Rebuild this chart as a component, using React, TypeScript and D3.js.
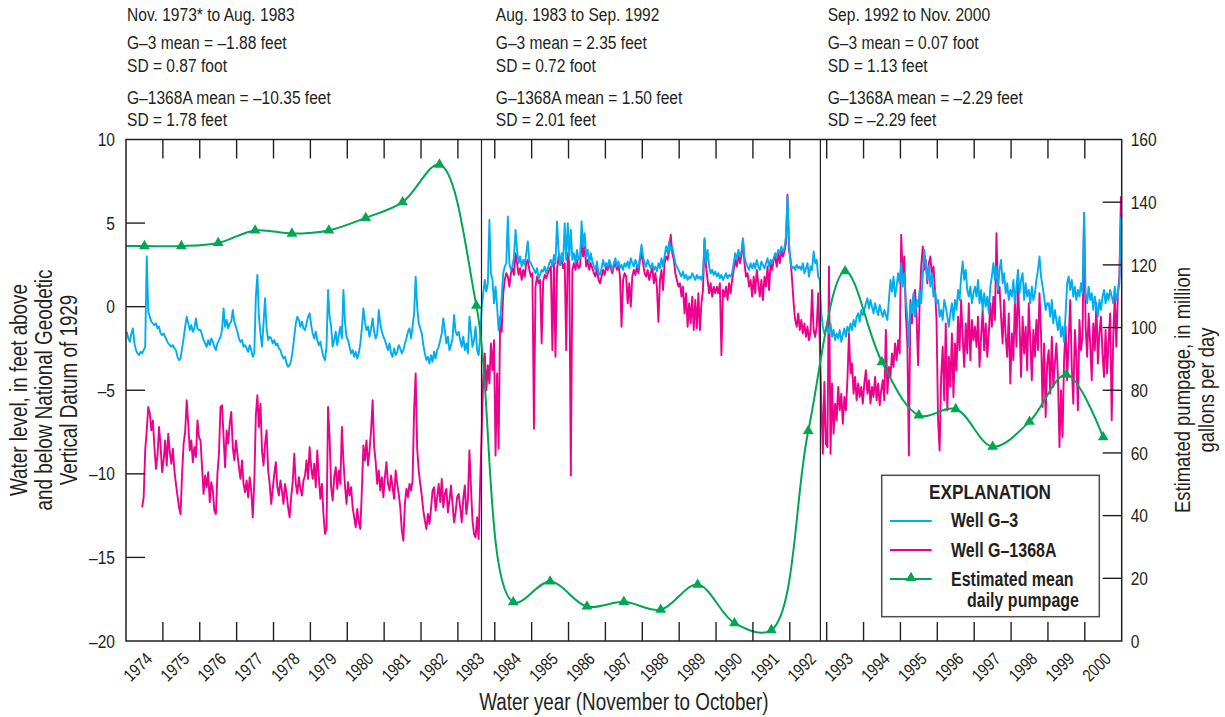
import React from 'react';
import * as d3 from 'd3';

const FONT = "'Liberation Sans', Arial, sans-serif";
const SQUEEZE = 0.82; // condensed look, as in the printed figure
const INK = '#231f20';
const BLUE = '#00aeef';
const PINK = '#ec008c';
const GREEN = '#00a651';

const width = 1225;
const height = 717;
const plot = { left: 126, right: 1121.7, top: 139.5, bottom: 641 };

// water years, November to October
const waterYears = [
  1974, 1975, 1976, 1977, 1978, 1979, 1980, 1981, 1982, 1983, 1984, 1985, 1986, 1987,
  1988, 1989, 1990, 1991, 1992, 1993, 1994, 1995, 1996, 1997, 1998, 1999, 2000,
];

// well G-3, feet NGVD 1929, half-month readings per water year
const g3Levels = [
  [-1.5, -1.9, -2.1, -1.6, -1.3, -2.2, -2.6, -2.8, -2.9, -2.7, -2.8, -2.6, -2.4, 3.0, -0.3, -0.6, -0.9, -1.0, -1.1, -1.0, -1.3, -1.2, -1.6, -1.7],
  [-1.6, -1.8, -2.0, -2.2, -2.3, -2.4, -2.3, -2.5, -2.6, -3.0, -3.2, -3.1, -2.5, -1.9, -1.2, -0.6, -1.0, -1.4, -1.1, -1.5, -1.3, -0.7, -1.3, -1.4],
  [-1.4, -1.7, -2.0, -2.2, -2.4, -2.0, -2.3, -1.9, -2.1, -2.4, -2.6, -2.2, -2.0, -1.8, -1.4, -0.1, -1.2, -0.8, -1.3, -1.0, -0.9, -0.2, -0.9, -1.2],
  [-1.5, -1.9, -2.1, -2.0, -2.4, -2.3, -2.5, -2.7, -2.3, -2.6, -3.0, -2.8, 0.6, 1.9, -0.6, -1.6, -2.4, -1.0, 0.5, -1.3, -2.0, -1.8, -1.9, -2.2],
  [-2.0, -2.3, -2.2, -2.5, -2.6, -2.9, -3.1, -3.0, -3.4, -3.6, -3.5, -3.2, -2.6, -1.8, -1.0, -0.6, -0.8, -1.2, -0.9, -1.3, -1.4, -1.0, -0.6, -0.4],
  [-1.1, -1.6, -1.9, -1.5, -2.0, -2.3, -2.1, -2.6, -3.0, -3.2, -2.4, 1.0, -0.6, -1.2, -2.4, -2.0, -1.5, -2.3, -1.7, -1.2, -1.9, 1.0, -0.9, -1.8],
  [-2.0, -2.4, -2.8, -2.6, -3.0, -2.7, -3.1, -2.8, -2.2, -1.3, -0.1, -0.9, -1.4, -1.2, -1.8, -1.3, -0.7, -1.5, -1.9, -1.6, -0.2, -1.0, -1.5, -1.8],
  [-2.0, -2.3, -2.6, -2.2, -2.8, -3.0, -2.5, -2.9, -2.7, -2.3, -2.5, -2.8, -2.6, -2.2, -1.9, -1.5, -1.3, -1.9, -1.2, -0.4, 1.8, 0.0, -1.0, -1.3],
  [-1.6, -2.3, -2.8, -3.2, -3.0, -3.4, -2.9, -3.3, -2.7, -3.1, -2.6, -2.4, -2.0, -1.6, -0.7, -1.4, -2.2, -1.8, -2.6, -2.3, -1.9, -0.5, -1.5, -1.7],
  [-1.5, -2.0, -2.4, -1.8, -2.6, -2.2, -2.8, -0.6, -1.5, -2.4, -2.0, -1.2, -2.6, -2.9, -1.8, 0.0, 0.8, 1.6, 0.9, 1.4, 5.2, 2.0, 1.6, 0.2],
  [1.2, 0.0, -1.4, -1.0, 0.6, 2.0, 2.4, 2.6, 5.4, 2.6, 2.2, 2.4, 3.0, 4.6, 3.4, 2.6, 3.0, 2.4, 2.8, 2.5, 3.2, 3.9, 2.7, 2.6],
  [2.4, 2.2, 2.0, 2.3, 1.7, 1.9, 2.2, 2.1, 2.4, 2.0, 2.3, 2.6, 2.8, 2.4, 3.1, 2.6, 5.1, 3.4, 2.5, 3.2, 2.7, 5.0, 2.8, 5.0],
  [3.0, 4.6, 2.8, 3.2, 2.6, 3.4, 2.8, 2.9, 5.1, 3.6, 4.4, 3.0, 3.4, 2.6, 3.2, 2.7, 2.4, 2.2, 2.7, 2.0, 1.9, 2.3, 2.8, 2.4],
  [2.6, 2.4, 2.8, 2.5, 2.2, 2.6, 2.9, 2.4, 2.7, 2.3, 2.5, 2.2, 2.6, 2.4, 2.7, 2.3, 2.9, 2.6, 2.4, 2.8, 2.5, 2.3, 3.0, 3.7],
  [3.0, 2.6, 2.4, 2.8, 2.5, 2.3, 2.6, 2.2, 2.4, 2.1, 2.6, 2.3, 2.9, 2.4, 3.0, 3.6, 3.2, 3.9, 3.4, 3.6, 3.1, 2.6, 2.4, 2.2],
  [2.0, 1.8, 2.1, 1.7, 1.9, 1.6, 1.8, 1.7, 2.0, 1.8, 1.6, 1.9, 1.7, 1.8, 1.6, 2.0, 4.1, 2.6, 3.4, 2.4, 2.0, 2.2, 1.9, 2.1],
  [1.8, 2.0, 1.7, 1.9, 1.6, 1.8, 2.0, 1.7, 1.9, 1.8, 2.0, 2.6, 3.2, 2.8, 3.4, 3.0, 3.3, 4.1, 3.0, 2.6, 2.4, 2.2, 2.6, 2.3],
  [2.6, 2.3, 2.8, 2.4, 2.2, 2.7, 2.5, 2.3, 2.6, 2.9, 2.4, 2.8, 2.6, 2.9, 3.2, 3.0, 3.4, 3.2, 3.6, 3.3, 3.5, 4.2, 6.6, 3.8],
  [2.6, 2.3, 2.4, 2.2, 2.5, 2.3, 2.4, 2.2, 2.6, 2.0, 2.3, 2.6, 1.8, 2.4, 2.2, 3.3, 2.6, 2.8, 1.8, 1.6, -0.4, -1.2, -1.6, -1.4],
  [-1.2, -1.6, -1.0, -1.8, -1.4, -2.0, -1.6, -1.9, -1.4, -2.1, -1.7, -1.3, -1.8, -1.2, -1.5, -1.0, -1.4, -0.8, -1.2, -0.6, -0.4, -0.9, -0.2, -0.5],
  [-0.2, 0.2, 0.5, -0.1, 0.4, 0.0, -0.4, 0.2, -0.2, -0.5, 0.1, -0.3, -0.6, -0.2, -0.5, -0.8, 0.4, 1.6, 0.9, 1.8, 0.6, 1.2, 2.0, 1.4],
  [2.6, 1.2, 2.0, 0.4, -0.6, -2.4, 0.2, -0.4, 0.8, -0.6, 0.4, 0.0, 1.0, 0.2, 1.8, 3.4, 2.6, 1.6, 2.4, 1.2, 2.0, 0.6, 1.0, 0.2],
  [0.4, -0.6, -0.2, -0.8, 0.4, 0.0, -0.6, -1.2, -0.4, 0.2, -0.8, 0.4, -0.2, 1.0, 0.4, 1.8, 2.7, 1.6, 2.2, 1.0, 0.6, 1.2, 0.2, 0.8],
  [1.2, 0.6, 1.6, 0.2, 1.0, -0.2, 0.8, 0.0, 0.6, -0.4, 1.2, 1.8, 2.6, 1.6, 2.4, 1.0, 2.2, 2.8, 1.4, 2.0, 0.8, 1.4, 0.4, 1.0],
  [0.6, 1.6, 0.2, 1.2, 2.2, 0.8, 1.6, 2.0, 0.4, 1.4, 0.6, 1.0, 0.2, 1.2, 0.4, 0.8, 1.6, 2.2, 3.0, 1.8, 1.2, 0.6, -0.2, 0.2],
  [0.2, -0.6, 0.4, -1.0, -0.2, -0.8, -1.4, -0.6, -1.8, -1.2, -2.1, -0.4, 1.4, 1.8, 1.0, 1.6, 0.6, 1.2, 0.4, 1.0, 0.6, 1.4, 0.8, 5.6],
  [0.8, 0.2, 1.2, 0.4, 0.8, -0.2, 0.6, 0.0, -0.6, 0.4, -0.2, 0.6, 1.0, 0.2, 0.8, 0.4, 1.0, 0.6, 0.2, 1.2, 0.4, 0.8, 1.4, 5.4],
];

// well G-1368A, same layout; record starts early 1974
const g1368aLevels = [
  [null, null, null, null, null, null, null, null, null, null, -12.0, -11.4, -8.6, -7.4, -6.0, -6.4, -7.4, -6.8, -8.4, -9.7, -8.9, -7.2, -8.3, -9.9],
  [-9.2, -8.0, -9.5, -7.6, -8.7, -9.4, -8.5, -9.8, -10.6, -11.3, -12.0, -12.4, -10.0, -8.2, -7.5, -5.6, -7.0, -8.6, -8.0, -9.3, -8.4, -9.0, -6.8, -7.8],
  [-8.0, -9.6, -11.2, -10.1, -10.8, -9.9, -11.7, -10.5, -11.0, -12.2, -12.4, -10.0, -8.8, -6.0, -5.9, -7.8, -9.6, -7.4, -8.2, -7.0, -6.3, -8.4, -9.2, -8.0],
  [-8.8, -9.6, -10.3, -9.2, -10.6, -11.1, -10.4, -11.4, -10.2, -11.0, -12.6, -10.5, -6.5, -5.3, -7.2, -5.8, -8.6, -9.5, -8.2, -7.4, -9.8, -10.6, -11.8, -10.9],
  [-10.0, -9.3, -10.8, -11.3, -10.4, -11.0, -11.8, -10.6, -11.2, -12.0, -12.6, -11.4, -10.5, -8.8, -10.6, -11.2, -10.2, -10.9, -11.3, -10.4, -10.1, -9.2, -10.3, -8.4],
  [-9.6, -10.3, -9.4, -10.8, -8.6, -10.2, -11.5, -10.6, -12.4, -13.6, -13.3, -6.0, -7.8, -10.8, -11.6, -10.2, -9.6, -10.9, -9.8, -10.6, -7.2, -9.2, -10.7, -11.8],
  [-10.5, -11.3, -10.8, -12.0, -12.6, -13.2, -12.1, -12.9, -13.3, -11.0, -8.3, -9.2, -8.0, -9.5, -8.6, -7.4, -5.6, -8.4, -9.3, -10.6, -9.8, -11.0, -10.2, -11.4],
  [-10.2, -9.3, -10.6, -11.0, -10.1, -10.8, -11.5, -9.8, -10.6, -11.2, -12.0, -13.4, -14.0, -11.8, -10.9, -11.4, -10.6, -11.0, -10.4, -6.2, -4.0, -8.5, -9.8, -10.6],
  [-11.3, -12.2, -12.8, -13.3, -12.4, -13.0, -12.1, -11.0, -10.8, -12.2, -11.4, -10.6, -11.7, -10.3, -12.0, -11.2, -10.9, -12.3, -11.6, -10.7, -11.8, -12.9, -12.3, -11.4],
  [-11.2, -12.0, -12.9, -11.5, -10.7, -12.4, -11.6, -8.6, -10.8, -12.8, -13.6, -13.8, -12.6, -13.9, -10.5, -7.5, -4.2, -2.8, -5.0, -3.5, -4.6, -2.2, -3.8, -2.0],
  [-8.9, -4.0, -8.5, -0.6, -1.5, 0.8, 1.6, 2.0, 1.8, 1.2, 2.0, 2.3, 1.9, 3.2, 2.6, 1.9, 2.3, 1.6, 2.2, 1.8, 2.6, 2.8, 2.2, 1.8],
  [2.0, -7.3, 1.2, 1.8, 1.4, 1.6, -2.2, 1.5, 1.9, 1.7, 2.0, 2.2, 2.4, -2.6, 2.6, -3.0, 2.2, 3.0, 2.5, 2.8, 2.3, 2.6, -2.6, 3.2],
  [2.6, -10.1, 2.2, 2.6, 2.2, 2.8, 2.3, 2.4, 4.0, 3.0, 3.6, 2.4, 2.8, 2.2, 2.6, 2.3, 2.0, 1.8, 2.3, 1.6, 1.4, 1.8, 2.2, 1.9],
  [2.4, 2.2, 2.6, 2.3, 2.0, 2.4, 2.6, 2.2, 2.5, 1.8, -1.2, 1.6, 2.0, 1.8, 0.2, 1.4, 0.0, 1.8, 2.2, 1.9, 2.4, 2.0, 2.8, 3.2],
  [2.6, 2.0, 1.8, 2.2, 1.6, 2.0, 2.4, 1.4, 2.0, 1.2, -0.9, 1.6, 2.2, 1.0, 2.6, 3.0, 2.8, 3.4, 4.3, 3.2, 2.8, 2.0, 1.6, 1.2],
  [1.4, 0.6, 1.2, -0.4, 0.8, -1.2, 0.2, -1.0, 0.6, -1.4, 0.4, -1.3, 0.8, -1.4, 0.2, 1.0, 4.0, 2.4, 1.6, 0.8, 1.4, 0.6, 1.2, 0.8],
  [1.2, 0.8, 1.4, -2.9, 1.0, 0.6, 1.2, 0.4, 1.4, 0.8, 1.6, 2.2, 2.8, 2.4, 3.2, 2.6, 3.0, 4.0, 2.6, 1.8, 2.0, 1.2, 1.6, 0.6],
  [1.8, 0.8, 2.2, 1.4, 0.6, 1.6, 0.4, 1.8, 1.2, 2.4, 1.0, 2.6, 2.2, 2.8, 3.0, 2.4, 3.2, 2.6, 3.4, 3.0, 3.3, 3.8, 6.7, 3.4],
  [2.8, 1.6, 0.2, -0.8, -1.2, -0.4, -1.4, -0.8, -1.6, -1.0, -1.8, -1.2, -2.0, -1.5, 1.0, -1.4, -1.8, -1.2, 0.8, -2.2, -5.6, -8.8, -4.5, -8.2],
  [-8.4, 2.4, -8.8, -4.6, -7.6, -5.8, -6.8, -4.8, -6.2, -5.2, -7.0, -5.4, -6.2, -4.4, -1.6, -4.0, -3.4, -5.2, -4.2, -5.6, -4.6, -5.4, -4.8, -5.8],
  [-4.6, -3.8, -5.2, -4.4, -5.8, -4.8, -5.4, -4.2, -5.6, -4.6, -5.9, -5.0, -4.4, -5.6, -1.4, -5.2, -3.6, -4.2, -2.8, -3.6, -2.2, -3.2, -2.0, -2.8],
  [4.3, 1.8, 3.0, -0.4, -2.2, -8.9, 0.4, -1.0, 0.6, 1.0, -0.6, -3.5, 0.2, 2.4, 3.6, 2.2, 2.8, 1.4, 2.6, 3.0, 1.8, 2.4, 1.0, -0.8],
  [-6.8, -8.6, -4.2, -2.4, -5.6, -1.0, -6.2, -3.0, -4.8, -1.6, -5.4, -2.2, -3.8, -0.6, -2.6, 0.4, -1.8, -3.6, -1.0, -2.8, 0.2, -3.2, -0.8, -2.0],
  [-1.2, -2.4, -0.6, -3.6, -1.8, -0.2, -2.6, -1.0, -3.0, -1.6, 0.2, -1.2, 0.6, -0.8, 4.4, 0.8, 1.2, -0.6, -2.2, 0.4, -1.8, -3.0, -0.4, -4.6],
  [-1.6, -3.2, 0.4, -2.4, 1.4, -1.0, -4.2, -0.6, -2.8, -1.2, -3.8, 0.2, -2.0, -4.4, -1.4, -3.0, -0.8, -2.6, 0.8, -1.6, -6.0, -2.2, -6.6, -3.4],
  [-2.6, -5.2, -1.8, -4.8, -3.4, -2.2, -4.2, -8.4, -5.0, -7.8, -3.2, -1.2, -4.4, -2.0, 0.4, -3.6, -5.8, -1.4, -3.0, -6.2, -0.8, -2.6, -1.8, 5.6],
  [-1.2, -3.0, -0.4, -2.2, -4.4, -1.0, -2.6, 0.2, -3.4, -1.6, -0.6, -2.8, -4.2, -1.4, -4.0, -2.0, -0.4, -6.8, -1.8, 0.6, -2.4, 0.8, 1.8, 6.6],
];

// estimated mean daily pumpage, million gallons per day, one per water year
const pumpage = [
  126, 126, 127, 131, 130, 131, 135, 140, 152, 107, 12.4, 19, 11, 12.5,
  10, 18, 5.7, 3.5, 67, 118, 89, 72, 74, 62, 70, 85, 65,
];

// period boundaries (Aug. 1983, Sep. 1992) in water-year units
const periodBreaks = [1983.64, 1992.83];
const periodLabelYears = [1974, 1984, 1993];
const periodNotes = [
  ['Nov. 1973* to Aug. 1983', 'G–3 mean = –1.88 feet', 'SD = 0.87 foot', 'G–1368A mean = –10.35 feet', 'SD = 1.78 feet'],
  ['Aug. 1983 to Sep. 1992', 'G–3 mean = 2.35 feet', 'SD = 0.72 foot', 'G–1368A mean = 1.50 feet', 'SD = 2.01 feet'],
  ['Sep. 1992 to Nov. 2000', 'G–3 mean = 0.07 foot', 'SD = 1.13 feet', 'G–1368A mean = –2.29 feet', 'SD = –2.29 feet'],
];
const noteBaselines = [20.7, 49.3, 72, 104.3, 126];

const levelTicks = [-20, -15, -10, -5, 0, 5, 10];
const pumpTicks = [0, 20, 40, 60, 80, 100, 120, 140, 160];
const TICK = 19;

const fmtLevel = (v: number) => (v < 0 ? '–' + Math.abs(v) : String(v));

type Pt = { t: number; v: number | null };

// text drawn squeezed horizontally to get a condensed face
function NT({ x, y, r = 0, anchor = 'start', size, bold = false, dy, children }: any) {
  const rot = r ? ` rotate(${r})` : '';
  return (
    <text transform={`translate(${x},${y})${rot} scale(${SQUEEZE},1)`} textAnchor={anchor}
      fontSize={size} fontWeight={bold ? 'bold' : 'normal'} fill={INK} dy={dy}>
      {children}
    </text>
  );
}

export default function App() {
  const x = d3.scaleLinear().domain([1974, 2001]).range([plot.left, plot.right]);
  const yL = d3.scaleLinear().domain([-20, 10]).range([plot.bottom, plot.top]);
  const yR = d3.scaleLinear().domain([0, 160]).range([plot.bottom, plot.top]);

  const toPoints = (rows: (number | null)[][]): Pt[] =>
    rows.flatMap((row, k) => row.map((v, i) => ({ t: waterYears[k] + (i + 0.5) / row.length, v })));

  const wellLine = d3.line<Pt>()
    .defined(d => d.v != null)
    .x(d => x(d.t))
    .y(d => yL(d.v as number));

  const pumpPts = waterYears.map((yr, i) => ({ t: yr + 0.5, v: pumpage[i] }));
  const pumpLine = d3.line<{ t: number; v: number }>()
    .x(d => x(d.t))
    .y(d => yR(d.v))
    .curve(d3.curveCatmullRom.alpha(0.5));
  const pumpPath = pumpLine([{ t: waterYears[0], v: pumpage[0] }, ...pumpPts]) || '';
  const tri = d3.symbol(d3.symbolTriangle, 50)() || '';

  const innerYears = waterYears.slice(1);

  return (
    <>
      <style>{'body{margin:0}'}</style>
      <svg width={width} height={height} style={{ display: 'block', background: '#fff' }} fontFamily={FONT}>
        <defs>
          <clipPath id="plotClip">
            <rect x={plot.left} y={plot.top} width={plot.right - plot.left} height={plot.bottom - plot.top} />
          </clipPath>
        </defs>

        {/* period notes */}
        {periodNotes.map((lines, p) => (
          <g key={p}>
            {lines.map((s, j) => (
              <NT key={j} x={x(periodLabelYears[p]) + 1} y={noteBaselines[j]} size={19}>{s}</NT>
            ))}
          </g>
        ))}

        {/* well levels */}
        <g clipPath="url(#plotClip)" fill="none" strokeLinejoin="round">
          <path d={wellLine(toPoints(g1368aLevels)) || ''} stroke={PINK} strokeWidth={1.9} />
          <path d={wellLine(toPoints(g3Levels)) || ''} stroke={BLUE} strokeWidth={1.9} />
        </g>

        {/* period dividers */}
        {periodBreaks.map(b => (
          <line key={b} x1={x(b)} x2={x(b)} y1={plot.top} y2={plot.bottom} stroke={INK} strokeWidth={1.2} />
        ))}

        {/* pumpage */}
        <path d={pumpPath} fill="none" stroke={GREEN} strokeWidth={2} />
        {pumpPts.map(d => (
          <path key={d.t} d={tri} transform={`translate(${x(d.t)},${yR(d.v)})`} fill={GREEN} />
        ))}

        {/* frame and ticks */}
        <rect x={plot.left} y={plot.top} width={plot.right - plot.left} height={plot.bottom - plot.top}
          fill="none" stroke={INK} strokeWidth={1.5} />
        <g stroke={INK} strokeWidth={1.4}>
          {innerYears.map(yr => (
            <g key={yr}>
              <line x1={x(yr)} x2={x(yr)} y1={plot.top} y2={plot.top + TICK} />
              <line x1={x(yr)} x2={x(yr)} y1={plot.bottom} y2={plot.bottom - TICK} />
            </g>
          ))}
          {levelTicks.slice(1, -1).map(v => (
            <line key={v} x1={plot.left} x2={plot.left + TICK} y1={yL(v)} y2={yL(v)} />
          ))}
          {pumpTicks.slice(1, -1).map(v => (
            <line key={v} x1={plot.right} x2={plot.right - TICK} y1={yR(v)} y2={yR(v)} />
          ))}
        </g>

        {/* tick labels */}
        {levelTicks.map(v => (
          <NT key={v} x={plot.left - 11} y={yL(v)} dy="0.35em" anchor="end" size={19}>{fmtLevel(v)}</NT>
        ))}
        {pumpTicks.map(v => (
          <NT key={v} x={plot.right + 9} y={yR(v)} dy="0.35em" size={19}>{v}</NT>
        ))}
        {waterYears.map(yr => (
          <NT key={yr} x={x(yr + 0.5) + 9} y={plot.bottom + 19} r={-45} anchor="end" size={17.5}>{yr}</NT>
        ))}

        {/* axis titles */}
        <NT x={(plot.left + plot.right) / 2} y={710} anchor="middle" size={23}>Water year (November to October)</NT>
        <NT x={27} y={390} r={-90} anchor="middle" size={23}>Water level, in feet above</NT>
        <NT x={52} y={390} r={-90} anchor="middle" size={23}>and below National Geodetic</NT>
        <NT x={77} y={390} r={-90} anchor="middle" size={23}>Vertical Datum of 1929</NT>
        <NT x={1190} y={390} r={-90} anchor="middle" size={22.5}>Estimated pumpage, in million</NT>
        <NT x={1214} y={390} r={-90} anchor="middle" size={22.5}>gallons per day</NT>

        {/* explanation */}
        <g>
          <rect x={881.7} y={475.3} width={217.6} height={141.4} fill="#fff" stroke="#4d4d4f" strokeWidth={1.5} />
          <NT x={990} y={499} anchor="middle" size={21} bold>EXPLANATION</NT>
          <line x1={890} x2={931.7} y1={521} y2={521} stroke={BLUE} strokeWidth={2} />
          <line x1={890} x2={931.7} y1={550} y2={550} stroke={PINK} strokeWidth={2} />
          <line x1={890} x2={931.7} y1={579} y2={579} stroke={GREEN} strokeWidth={2} />
          <path d={tri} transform="translate(911,578)" fill={GREEN} />
          <NT x={951} y={527} size={19.5} bold>Well G–3</NT>
          <NT x={951} y={557} size={19.5} bold>Well G–1368A</NT>
          <NT x={951} y={586} size={19.5} bold>Estimated mean</NT>
          <NT x={967} y={607} size={19.5} bold>daily pumpage</NT>
        </g>
      </svg>
    </>
  );
}
